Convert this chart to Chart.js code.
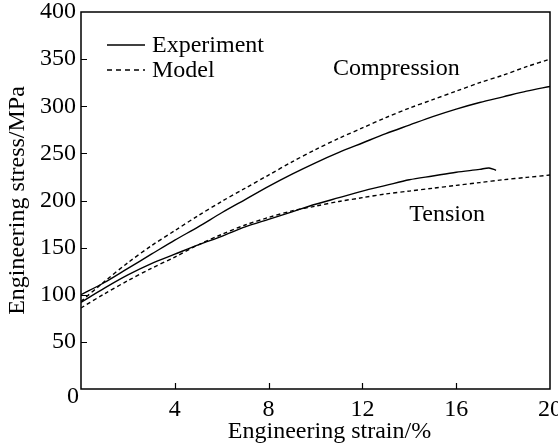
<!DOCTYPE html>
<html>
<head>
<meta charset="utf-8">
<script src="https://cdn.jsdelivr.net/npm/chart.js@4.4.0/dist/chart.umd.min.js"></script>
<style>
  html, body { margin: 0; padding: 0; background: #fff; }
  #wrap { width: 558px; height: 446px; }
</style>
</head>
<body>
<div id="wrap"><canvas id="chart" width="558" height="446"></canvas></div>
<script>
// Data (strain in %, stress in MPa)
const strain = [0, 1, 2, 3, 4, 5, 6, 7, 8, 9, 10, 11, 12, 13, 14, 15, 16, 17, 18, 19, 20];
const compExperiment = [100, 113, 128, 143, 158, 172, 187, 201, 215, 228, 240, 251, 261, 271, 280, 289, 297, 304, 310, 316, 321];
const compModel = [93, 114, 134, 152, 168, 184, 199, 213, 227, 241, 254, 266, 277, 288, 298, 307, 316, 325, 333, 342, 350];
const tensModel = [86, 101, 115, 128, 140, 153, 164, 174, 182, 189, 194, 199, 203, 207, 210, 213, 216, 219, 222, 224.5, 227];
const tensStrain = [0, 1, 2, 3, 4, 5, 6, 7, 8, 9, 10, 11, 12, 13, 14, 15, 16, 17, 17.4, 17.7];
const tensExperiment = [92, 107, 121, 133, 143, 153, 162, 172, 180, 188, 196, 203, 210, 216, 222, 226, 230, 233, 234.5, 232];

const xTicks = [0, 4, 8, 12, 16, 20];
const yTicks = [0, 50, 100, 150, 200, 250, 300, 350, 400];

const FONT = '"Liberation Serif", "Times New Roman", serif';

const toPoints = (xs, ys) => xs.map((x, i) => ({ x, y: ys[i] }));

const lineStyle = (dashed) => ({
    borderColor: '#000',
    borderWidth: 1.4,
    borderDash: dashed ? [4, 3] : [],
    pointRadius: 0,
    fill: false,
    tension: 0.3
});

// Frame, inward ticks, origin label, x title
const framePlugin = {
    id: 'frame',
    afterDraw(chart) {
        const { ctx, chartArea: a, scales: { x, y } } = chart;
        ctx.save();
        ctx.strokeStyle = '#000';
        ctx.lineWidth = 1.5;
        ctx.strokeRect(a.left, a.top, a.right - a.left, a.bottom - a.top);
        ctx.lineWidth = 1.2;
        ctx.beginPath();
        xTicks.slice(1, -1).forEach(v => {
            const px = Math.round(x.getPixelForValue(v)) + 0.5;
            ctx.moveTo(px, a.bottom);
            ctx.lineTo(px, a.bottom - 6);
        });
        yTicks.slice(1, -1).forEach(v => {
            const py = Math.round(y.getPixelForValue(v)) + 0.5;
            ctx.moveTo(a.left, py);
            ctx.lineTo(a.left + 6, py);
        });
        ctx.stroke();

        ctx.fillStyle = '#000';
        ctx.font = '24px ' + FONT;
        ctx.textAlign = 'right';
        ctx.textBaseline = 'middle';
        ctx.fillText('0', a.left - 2, a.bottom + 8);

        ctx.textAlign = 'center';
        ctx.font = '24px ' + FONT;
        ctx.fillText('Engineering strain/%', (a.left + a.right) / 2 + 14, 432);
        ctx.restore();
    }
};

// Legend and curve labels
const notesPlugin = {
    id: 'notes',
    afterDraw(chart) {
        const { ctx, chartArea: a, scales: { x, y } } = chart;
        ctx.save();
        ctx.strokeStyle = '#000';
        ctx.fillStyle = '#000';
        ctx.lineWidth = 1.4;
        ctx.font = '24px ' + FONT;
        ctx.textBaseline = 'middle';
        ctx.textAlign = 'left';

        const lx0 = a.left + 26, lx1 = a.left + 64;
        ctx.beginPath();
        ctx.moveTo(lx0, a.top + 33);
        ctx.lineTo(lx1, a.top + 33);
        ctx.stroke();
        ctx.fillText('Experiment', a.left + 71, a.top + 34);

        ctx.setLineDash([5, 4]);
        ctx.beginPath();
        ctx.moveTo(lx0, a.top + 58);
        ctx.lineTo(lx1, a.top + 58);
        ctx.stroke();
        ctx.setLineDash([]);
        ctx.fillText('Model', a.left + 71, a.top + 59);

        ctx.fillText('Compression', x.getPixelForValue(10.75), y.getPixelForValue(340));
        ctx.fillText('Tension', x.getPixelForValue(14.0), y.getPixelForValue(184.5));
        ctx.restore();
    }
};

new Chart(document.getElementById('chart'), {
    type: 'line',
    data: {
        datasets: [
            { label: 'Compression experiment', data: toPoints(strain, compExperiment), ...lineStyle(false) },
            { label: 'Compression model', data: toPoints(strain, compModel), ...lineStyle(true) },
            { label: 'Tension experiment', data: toPoints(tensStrain, tensExperiment), ...lineStyle(false) },
            { label: 'Tension model', data: toPoints(strain, tensModel), ...lineStyle(true) }
        ]
    },
    options: {
        responsive: false,
        animation: false,
        devicePixelRatio: 1,
        layout: { padding: { top: 12, right: 8, left: 0, bottom: 0 } },
        plugins: { legend: { display: false }, tooltip: { enabled: false } },
        scales: {
            x: {
                type: 'linear',
                min: 0,
                max: 20,
                afterBuildTicks: s => { s.ticks = xTicks.map(v => ({ value: v })); },
                afterFit: s => { s.height = 57; s.paddingLeft = 0; s.paddingRight = 0; },
                grid: { display: false, drawTicks: false },
                border: { display: false },
                ticks: {
                    color: '#000',
                    font: { family: FONT, size: 24 },
                    padding: 6,
                    maxRotation: 0,
                    callback: v => (v === 0 ? '' : String(v))
                },
                title: { display: false }
            },
            y: {
                type: 'linear',
                min: 0,
                max: 400,
                afterBuildTicks: s => { s.ticks = yTicks.map(v => ({ value: v })); },
                afterFit: s => { s.width = 81; s.paddingTop = 0; s.paddingBottom = 0; },
                grid: { display: false, drawTicks: false },
                border: { display: false },
                ticks: {
                    color: '#000',
                    font: { family: FONT, size: 24 },
                    padding: 5,
                    callback: v => (v === 0 ? '' : String(v))
                },
                title: {
                    display: true,
                    text: 'Engineering stress/MPa',
                    color: '#000',
                    font: { family: FONT, size: 24, lineHeight: 1.2 },
                    padding: { top: 3, bottom: 0 }
                }
            }
        }
    },
    plugins: [framePlugin, notesPlugin]
});
</script>
</body>
</html>
